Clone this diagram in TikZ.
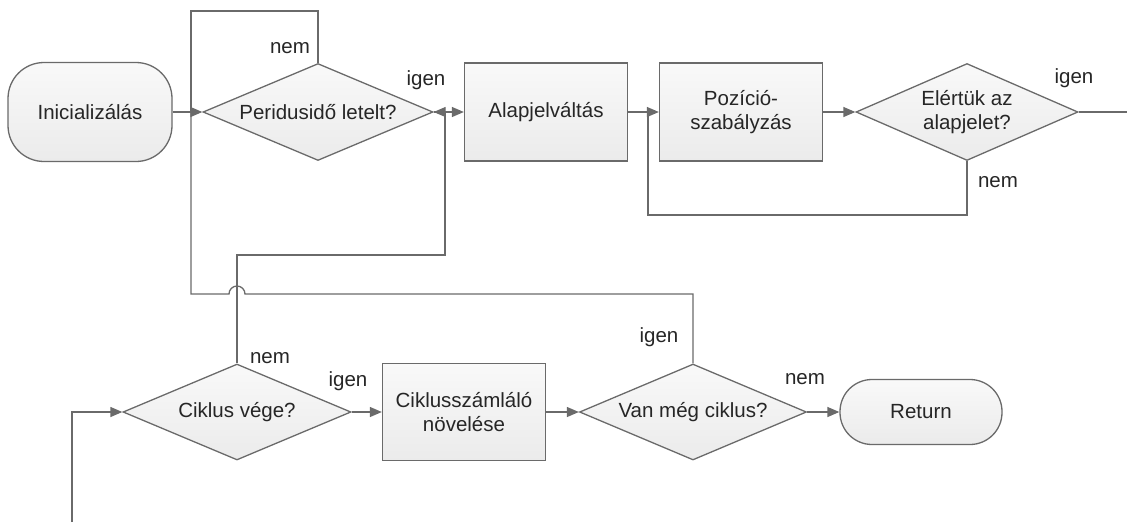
\documentclass[tikz,border=0pt]{standalone}
\usepackage{fontspec}
\setmainfont{Liberation Sans}
\usetikzlibrary{arrows.meta,shapes.geometric,calc}
\definecolor{edge}{HTML}{6A6A6A}
\definecolor{boxtop}{HTML}{F9F9F9}
\definecolor{boxbot}{HTML}{EBEBEB}
\definecolor{ink}{HTML}{262626}
\tikzset{
  shape base/.style={draw=edge, line width=1.3pt, top color=boxtop, bottom color=boxbot,
    text=ink, font=\fontsize{20.5}{23.5}\selectfont, align=center, inner sep=0pt},
  terminal/.style={shape base, rectangle, rounded corners=36pt},
  process/.style={shape base, rectangle},
  decision/.style={shape base, diamond, aspect=2.35},
  flow/.style={draw=edge, line width=1.3pt},
  tip/.style={-{Triangle[length=12pt,width=10pt]}},
  arr/.style={flow, tip},
  lbl/.style={text=ink, font=\fontsize{20.5}{23.5}\selectfont, inner sep=0pt}
}
\begin{document}
\begin{tikzpicture}[x=1pt,y=-1pt]
\useasboundingbox (0,0) rectangle (1127,523);

% top row
\node[terminal, minimum width=164pt, minimum height=99pt] (init) at (90,112) {Inicializálás};
\node[decision, minimum width=230pt, minimum height=97pt] (per) at (318,112) {Peridusidő letelt?};
\node[process, minimum width=163pt, minimum height=98pt] (alap) at (546,112) {Alapjelváltás};
\node[process, minimum width=163pt, minimum height=98pt] (poz) at (741,112) {Pozíció-\\szabályzás};
\node[decision, minimum width=222pt, minimum height=97pt] (elert) at (967,112) {Elértük az\\alapjelet?};

% bottom row
\node[decision, minimum width=228pt, minimum height=96pt] (cvege) at (237,412) {Ciklus vége?};
\node[process, minimum width=163pt, minimum height=97pt] (szaml) at (464,412) {Ciklusszámláló\\növelése};
\node[decision, minimum width=227pt, minimum height=96pt] (vanmeg) at (693,412) {Van még ciklus?};
\node[terminal, minimum width=162pt, minimum height=65pt, rounded corners=32pt] (ret) at (921,412) {Return};

% junction points
\coordinate (merge) at (191,112);
\coordinate (split) at (445,112);
\coordinate (loopin) at (648,112);
\coordinate (outR) at (1127,112);
\coordinate (entry) at (72,522);

% main flow
\draw[arr] (init.east) -- (per.west);
\draw[arr] (split) -- (alap.west);
\draw[flow] (per.east) -- (split);
\draw[arr] (alap.east) -- (poz.west);
\draw[arr] (poz.east) -- (elert.west);
\draw[flow] (elert.east) -- (outR);
\draw[arr] (cvege.east) -- (szaml.west);
\draw[arr] (szaml.east) -- (vanmeg.west);
\draw[arr] (vanmeg.east) -- (ret.west);
\draw[arr] (entry) |- (cvege.west);

% "nem" loop of the period check
\draw[flow] (per.north) -- (318,11) -- (191,11) -- (merge);

% loop back from "Van még ciklus?", hopping over the riser from "Ciklus vége?"
\draw[flow] (vanmeg.north) -- (693,294) -- (245,294)
  arc[start angle=0, end angle=180, radius=8pt] -- (191,294) -- (merge);

% "nem" of "Ciklus vége?" back to the period check
\draw[flow] (cvege.north) -- (237,255) -- (445,255) -- (split);
\draw[arr] (split) -- (per.east);

% position-control loop
\draw[flow] (elert.south) -- (967,215) -- (648,215) -- (loopin);

% branch labels
\node[lbl] at (290,48) {nem};
\node[lbl] at (426,80) {igen};
\node[lbl] at (1074,78) {igen};
\node[lbl] at (998,182) {nem};
\node[lbl] at (270,358) {nem};
\node[lbl] at (348,381) {igen};
\node[lbl] at (659,337) {igen};
\node[lbl] at (805,379) {nem};
\end{tikzpicture}
\end{document}
